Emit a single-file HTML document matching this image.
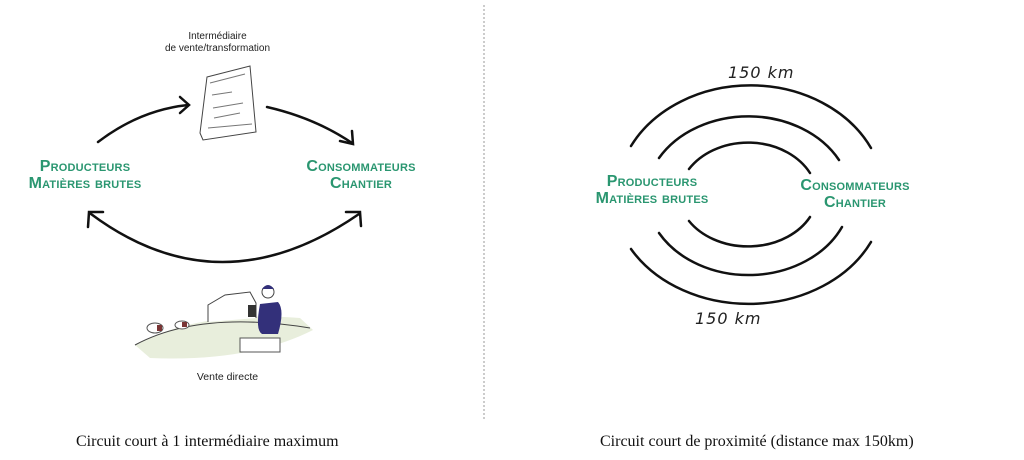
<!DOCTYPE html>
<html><head><meta charset="utf-8"><style>
html,body{margin:0;padding:0;background:#fff;}
body{width:1024px;height:460px;position:relative;overflow:hidden;}
.g{position:absolute;color:#2a9670;font-family:"Liberation Sans Narrow","Liberation Sans",sans-serif;font-variant:small-caps;font-size:16px;line-height:17px;text-align:center;font-weight:bold;letter-spacing:0.2px}
.s{position:absolute;font-family:"Liberation Sans Narrow","Liberation Sans",sans-serif;font-size:10px;line-height:12px;color:#222;text-align:center}
.c{position:absolute;font-family:"Liberation Serif",serif;font-size:16px;color:#111;white-space:nowrap}
.h{position:absolute;font-family:"DejaVu Sans",sans-serif;font-style:italic;font-size:16px;color:#222;font-weight:200;letter-spacing:1px}
</style></head><body>
<svg width="1024" height="460" style="position:absolute;left:0;top:0">
<line x1="484" y1="5" x2="484" y2="420" stroke="#999" stroke-dasharray="2,2" stroke-width="1"/>
<g fill="none" stroke="#111" stroke-width="2.5" stroke-linecap="round">
<path d="M98 142 Q140 110 188 105"/><path d="M180 97 L189 105 L180 113"/>
<path d="M267 107 Q315 118 352 143"/><path d="M340 141 L353 144 L352 131"/>
<path d="M91 214 Q220 310 359 214"/><path d="M88 227 L89 212 L103 212"/><path d="M346 212 L360 212 L361 226"/>
<path d="M631 146 A134 111 0 0 1 871 148"/>
<path d="M659 158 A103 83 0 0 1 839 160"/>
<path d="M689 169 A70 57 0 0 1 810 173"/>
<path d="M689 221 A70 55 0 0 0 810 217"/>
<path d="M659 233 A103 83 0 0 0 842 227"/>
<path d="M631 249 A136 110 0 0 0 871 242"/>
</g>
<!-- sign -->
<g fill="#fff" stroke="#444" stroke-width="1">
<path d="M207 77 L250 66 L256 132 L203 140 L200 133 Z"/>
<path d="M210 83 L245 74 M212 95 L232 92 M213 108 L243 103 M214 118 L240 113 M208 128 L252 124" stroke="#777"/>
</g>
<!-- farm -->
<path d="M135 345 Q200 310 300 318 L313 330 Q250 362 150 358 Z" fill="#e8eedc"/>
<path d="M135 345 Q200 310 310 328" fill="none" stroke="#444"/>
<path d="M208 322 L208 305 L225 295 L250 292 L256 303 L256 318" fill="#fff" stroke="#444"/>
<rect x="248" y="305" width="8" height="12" fill="#333"/>
<path d="M260 304 Q255 330 262 334 L278 334 Q285 310 278 302 Z" fill="#33307a"/>
<circle cx="268" cy="292" r="6" fill="#fff" stroke="#444"/><path d="M262 289 Q268 281 274 289Z" fill="#33307a"/>
<rect x="240" y="338" width="40" height="14" fill="#fff" stroke="#555"/>
<ellipse cx="155" cy="328" rx="8" ry="5" fill="#fff" stroke="#555"/><ellipse cx="182" cy="325" rx="7" ry="4" fill="#fff" stroke="#555"/>
<rect x="157" y="325" width="5" height="6" fill="#7a3535"/><rect x="182" y="322" width="5" height="5" fill="#7a3535"/>
</svg>
<div class="s" style="left:140px;top:31px;width:155px">Intermédiaire<br>de vente/transformation</div>
<div class="s" style="left:170px;top:371px;width:115px;font-size:10.5px">Vente directe</div>
<div class="g" style="left:10px;top:158px;width:150px">Producteurs<br>Matières brutes</div>
<div class="g" style="left:286px;top:158px;width:150px">Consommateurs<br>Chantier</div>
<div class="g" style="left:577px;top:173px;width:150px">Producteurs<br>Matières brutes</div>
<div class="g" style="left:780px;top:177px;width:150px">Consommateurs<br>Chantier</div>
<div class="h" style="left:728px;top:63px">150 km</div>
<div class="h" style="left:695px;top:309px">150 km</div>
<div class="c" style="left:76px;top:433px">Circuit court à 1 intermédiaire maximum</div>
<div class="c" style="left:600px;top:433px">Circuit court de proximité (distance max 150km)</div>
</body></html>
